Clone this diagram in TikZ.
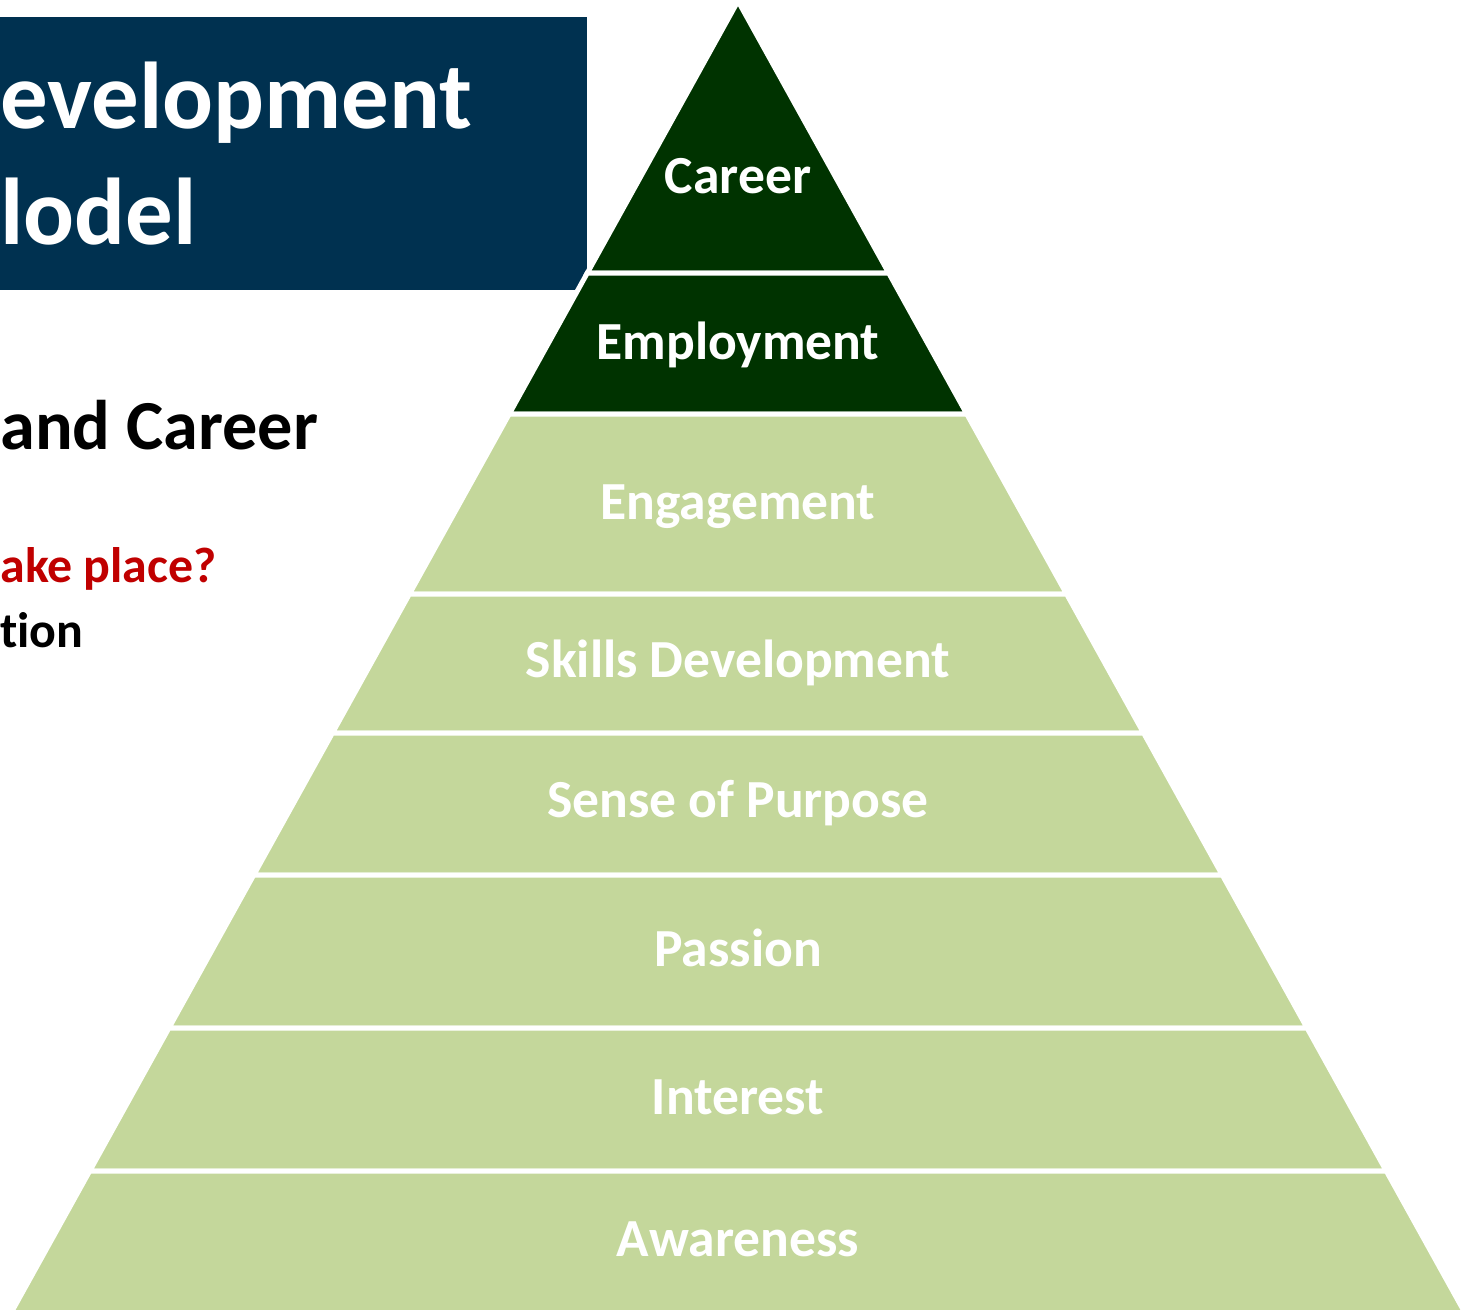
\documentclass[tikz,border=0pt]{standalone}
\usepackage{fontspec}
\setmainfont{Carlito}[Ligatures=NoCommon]
\usepackage{tikz}
\usepackage{xcolor}

\definecolor{boxnavy}{HTML}{003150}
\definecolor{topgreen}{HTML}{003300}
\definecolor{palegreen}{HTML}{C4D79B}
\definecolor{askred}{HTML}{C00000}

\begin{document}
\begin{tikzpicture}[x=0.02cm, y=-0.02cm,
  layer/.style={draw=white, line width=0.1cm, line join=miter},
  layerlabel/.style={anchor=base, inner sep=0pt, text=white, font=\bfseries\fontsize{30.5}{36}\selectfont},
  sidetext/.style={anchor=base west, inner sep=0pt, font=\bfseries}]
  \useasboundingbox (0,0) rectangle (1467,1309);
  \clip (0,0) rectangle (1467,1309);

  %coordinates
  \coordinate (apex) at (738,1);
  \coordinate (B1L)  at (587.3,273);   \coordinate (B1R) at (888.7,273);
  \coordinate (B2L)  at (509.2,414);   \coordinate (B2R) at (966.8,414);
  \coordinate (B3L)  at (409.4,594);   \coordinate (B3R) at (1066.6,594);
  \coordinate (B4L)  at (332.4,733);   \coordinate (B4R) at (1143.6,733);
  \coordinate (B5L)  at (253.7,875);   \coordinate (B5R) at (1222.3,875);
  \coordinate (B6L)  at (168.9,1028);  \coordinate (B6R) at (1307.1,1028);
  \coordinate (B7L)  at (89.7,1171);   \coordinate (B7R) at (1386.3,1171);
  \coordinate (B8L)  at (7.1,1320);    \coordinate (B8R) at (1468.9,1320);

  %title box
  \fill[boxnavy] (0,17) rectangle (587,290);
  \node[sidetext, text=white, font=\bfseries\fontsize{54}{60}\selectfont] (T1) at (0,128) {evelopment};
  \node[sidetext, text=white, font=\bfseries\fontsize{54}{60}\selectfont] (T2) at (0,244) {lodel};

  %left texts
  \node[sidetext, font=\bfseries\fontsize{40}{46}\selectfont] (S1) at (0,449) {and Career};
  \node[sidetext, text=askred, font=\bfseries\fontsize{28.4}{34}\selectfont] (S2) at (0,582) {ake place?};
  \node[sidetext, font=\bfseries\fontsize{28.4}{34}\selectfont] (S3) at (0,647) {tion};

  %pyramid layers
  \filldraw[layer, fill=topgreen]  (apex) -- (B1R) -- (B1L) -- cycle;
  \filldraw[layer, fill=topgreen]  (B1L) -- (B1R) -- (B2R) -- (B2L) -- cycle;
  \filldraw[layer, fill=palegreen] (B2L) -- (B2R) -- (B3R) -- (B3L) -- cycle;
  \filldraw[layer, fill=palegreen] (B3L) -- (B3R) -- (B4R) -- (B4L) -- cycle;
  \filldraw[layer, fill=palegreen] (B4L) -- (B4R) -- (B5R) -- (B5L) -- cycle;
  \filldraw[layer, fill=palegreen] (B5L) -- (B5R) -- (B6R) -- (B6L) -- cycle;
  \filldraw[layer, fill=palegreen] (B6L) -- (B6R) -- (B7R) -- (B7L) -- cycle;
  \filldraw[layer, fill=palegreen] (B7L) -- (B7R) -- (B8R) -- (B8L) -- cycle;

  %labels
  \node[layerlabel] (car) at (738,193)  {Career};
  \node[layerlabel] (emp) at (738,359)  {Employment};
  \node[layerlabel] (eng) at (738,519)  {Engagement};
  \node[layerlabel] (ski) at (738,677)  {Skills Development};
  \node[layerlabel] (pur) at (738,817)  {Sense of Purpose};
  \node[layerlabel] (pas) at (738,966)  {Passion};
  \node[layerlabel] (int) at (738,1114) {Interest};
  \node[layerlabel] (awa) at (738,1256) {Awareness};

\end{tikzpicture}
\end{document}
